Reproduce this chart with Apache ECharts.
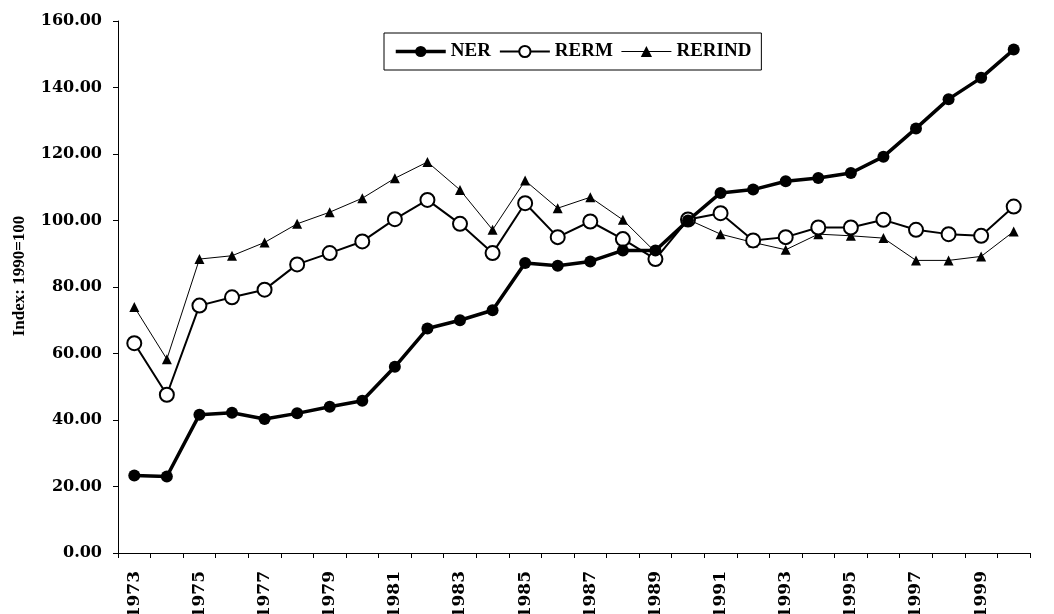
<!DOCTYPE html>
<html>
<head>
  <meta charset="UTF-8" />
  <title>NER / RERM / RERIND</title>
  <script src="https://cdn.jsdelivr.net/npm/echarts@6/dist/echarts.min.js"></script>
  <style>
    html, body { margin: 0; padding: 0; background: #fff; }
    #main { width: 1054px; height: 614px; }
  </style>
</head>
<body>
  <div id="main"></div>
  <script>
    const years = [];
    for (let y = 1973; y <= 2000; y++) years.push(String(y));

    const ner = [23.3, 23, 41.6, 42.2, 40.3, 42, 44, 45.8, 56, 67.5, 70, 73,
      87.2, 86.4, 87.7, 91, 91, 100, 108.3, 109.3, 111.8, 112.8, 114.3, 119.2,
      127.7, 136.5, 142.9, 151.4];
    const rerm = [63.1, 47.6, 74.4, 76.9, 79.2, 86.8, 90.2, 93.7, 100.4, 106.2,
      99, 90.2, 105.2, 95, 99.7, 94.4, 88.4, 100.3, 102.2, 94, 95, 97.9, 97.9,
      100.2, 97.2, 95.9, 95.4, 104.2];
    const rerind = [74, 58.3, 88.4, 89.4, 93.4, 99, 102.5, 106.7, 112.7, 117.6,
      109.2, 97.2, 112, 103.7, 107, 100.2, 90.5, 100.3, 95.9, 93.4, 91.2, 95.9,
      95.4, 94.7, 88, 88, 89.2, 96.7];

    // wide digits in the scan fit DejaVu Serif metrics better than Times
    const numFont = '"DejaVu Serif", serif';
    const txtFont = '"Liberation Serif", "Times New Roman", serif';
    const chart = echarts.init(document.getElementById('main'));

    chart.setOption({
      animation: false,
      backgroundColor: '#fff',
      grid: { left: 118, right: 24, top: 21, bottom: 61, outerBoundsMode: 'none', containLabel: false },
      legend: {
        left: 384,
        top: 33,
        data: [
          { name: 'NER', lineStyle: { width: 3.5 } },
          { name: 'RERM', lineStyle: { width: 2 } },
          { name: 'RERIND', lineStyle: { width: 1 } }
        ],
        borderColor: '#000',
        borderWidth: 1,
        padding: [9, 10],
        itemWidth: 50,
        itemHeight: 14,
        itemGap: 8,
        textStyle: { fontFamily: txtFont, fontWeight: 'bold', fontSize: 19, color: '#000' }
      },
      xAxis: {
        type: 'category',
        data: years,
        boundaryGap: true,
        axisLine: { lineStyle: { color: '#000', width: 1 } },
        axisTick: { show: true, interval: 0, length: 5, lineStyle: { color: '#000' } },
        axisLabel: {
          interval: 1,
          rotate: 90,
          margin: 18,
          color: '#000',
          fontFamily: numFont,
          fontWeight: 'bold',
          fontSize: 17
        },
        splitLine: { show: false }
      },
      yAxis: {
        type: 'value',
        min: 0,
        max: 160,
        interval: 20,
        name: 'Index: 1990=100',
        nameLocation: 'middle',
        nameGap: 90,
        nameTextStyle: {
          fontFamily: txtFont, fontWeight: 'bold', fontSize: 17, color: '#000',
          padding: [0, 0, 0, 22]
        },
        axisLine: { show: true, lineStyle: { color: '#000', width: 1 } },
        axisTick: { show: true, length: 5, lineStyle: { color: '#000' } },
        axisLabel: {
          formatter: v => v.toFixed(2),
          margin: 16,
          color: '#000',
          fontFamily: numFont,
          fontWeight: 'bold',
          fontSize: 16
        },
        splitLine: { show: false }
      },
      series: [
        {
          name: 'NER',
          type: 'line',
          z: 4,
          data: ner,
          symbol: 'circle',
          symbolSize: 12,
          lineStyle: { color: '#000', width: 3.5 },
          itemStyle: { color: '#000' }
        },
        {
          name: 'RERM',
          type: 'line',
          z: 3,
          data: rerm,
          symbol: 'emptyCircle',
          symbolSize: 14,
          lineStyle: { color: '#000', width: 2 },
          itemStyle: { color: '#000', borderWidth: 2 }
        },
        {
          name: 'RERIND',
          type: 'line',
          z: 2,
          data: rerind,
          symbol: 'triangle',
          symbolSize: 10,
          lineStyle: { color: '#000', width: 1 },
          itemStyle: { color: '#000' }
        }
      ]
    });
  </script>
</body>
</html>
